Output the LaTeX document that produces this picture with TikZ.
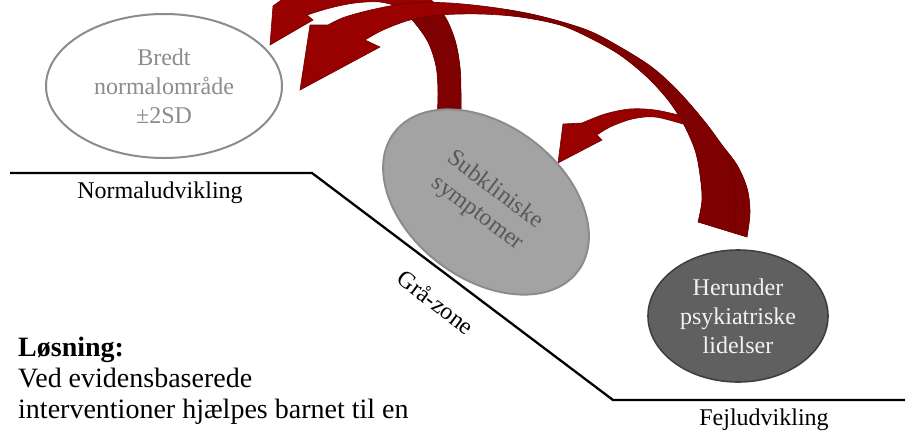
\documentclass[tikz,border=0pt]{standalone}
\usepackage{fontspec}
\setmainfont{Liberation Serif}
\usetikzlibrary{shapes.geometric}
\pgfdeclarelayer{background}
\pgfsetlayers{background,main}
\definecolor{arrowface}{HTML}{990000}
\definecolor{arrowback}{HTML}{7E0000}
\definecolor{arrowedge}{HTML}{6A0000}
\definecolor{ringgray}{HTML}{8C8C8C}
\definecolor{midgray}{HTML}{A3A3A3}
\definecolor{subtext}{HTML}{595959}
\definecolor{darkfill}{HTML}{606060}
\definecolor{darkedge}{HTML}{404040}
\definecolor{lighttext}{HTML}{F2F2F2}

\def\bigarrowpath{plot[smooth, tension=0.55] coordinates {(747,237) (750,212) (747,188) (737,165) (722,145) (705,122) (680,93) (653,68) (620,47) (587,30) (540,16) (497,8) (450,3) (410,3) (375,9) (345,17) (328,25)} -- (310,25) -- (300,90) -- (380,47) -- plot[smooth, tension=0.55] coordinates {(365,40) (383,30) (410,20) (440,15) (480,14) (520,17) (560,25) (590,38) (620,55) (647,77) (668,100) (683,123) (695,150) (700,175) (702,200) (698,222)} -- cycle}
\def\smallarrowpath{plot[smooth, tension=0.55] coordinates {(437,122) (438,92) (436,66) (428,42) (414,22) (400,8) (380,2) (355,3) (330,8) (307,15)} -- (313,20) -- (270,45) -- (273,6) -- plot[smooth, tension=0.55] coordinates {(284,-2) (310,-12) (350,-20) (395,-18) (425,-5) (444,15) (455,40) (460,67) (461,93) (461,124)} -- cycle}
\def\carrowpath{plot[smooth, tension=0.55] coordinates {(692,118) (683,116) (655,110) (630,109) (605,114) (582,123)} -- (563,124) -- (558,163) -- (602,140) -- plot[smooth, tension=0.55] coordinates {(597,135) (610,127) (632,119) (655,117) (683,124) (692,127)} -- cycle}

\begin{document}
\begin{tikzpicture}[x=1pt,y=-1pt,
  txt/.style={font=\fontsize{24}{29}\selectfont, inner sep=0pt, align=center},
  bigtxt/.style={font=\fontsize{28}{31}\selectfont, inner sep=0pt, align=left},
  zoneline/.style={draw=black, line width=2.3pt},
  oval/.style={ellipse, inner sep=0pt, line width=2pt},
  arrowoutline/.style={draw=arrowedge, line width=0.6pt}]
\useasboundingbox (0,0) rectangle (905,432);

% zone line
\coordinate (z0) at (10,173);
\coordinate (z1) at (312,173);
\coordinate (z2) at (613,400);
\coordinate (z3) at (905,400);
\draw[zoneline] (z0) -- (z1) -- (z2) -- (z3);

% ellipses
\node[oval, txt, draw=ringgray, fill=white, text=ringgray, minimum width=236pt, minimum height=144pt] (normal) at (164,86) {Bredt\\normalområde\\±2SD};
\node[oval, txt, draw=ringgray, fill=midgray, text=subtext, minimum width=230pt, minimum height=154pt, rotate=-37] (sub) at (486,202) {Subkliniske\\symptomer};
\node[oval, txt, draw=darkedge, line width=1.6pt, fill=darkfill, text=lighttext, minimum width=180pt, minimum height=132pt] (psyk) at (738,316) {Herunder\\psykiatriske\\lidelser};

% labels
\node[txt, anchor=base] (lnormal) at (160,198) {Normaludvikling};
\node[txt, anchor=base] (lfejl) at (764,425) {Fejludvikling};
\node[txt, rotate=-37] (lgra) at (436,302) {Grå-zone};
\node[bigtxt, anchor=north west] (losning) at (18,337) {\textbf{Løsning:}\\Ved evidensbaserede\\interventioner hjælpes barnet til en};

% arrows
\begin{pgfonlayer}{background}
\fill[arrowface] \carrowpath;
\draw[arrowoutline] \carrowpath;
\fill[arrowface] \smallarrowpath;
\begin{scope}
\clip (404,10) rectangle (480,130);
\fill[arrowback] \smallarrowpath;
\end{scope}
\draw[arrowoutline] \smallarrowpath;
\fill[arrowface] \bigarrowpath;
\begin{scope}
\clip (505,-30) rectangle (905,260);
\fill[arrowback] \bigarrowpath;
\end{scope}
\draw[arrowoutline] \bigarrowpath;
\draw[arrowedge, line width=0.6pt] plot[smooth] coordinates {(724,148) (733,172) (736,200) (735,234)};
\end{pgfonlayer}
\end{tikzpicture}
\end{document}
